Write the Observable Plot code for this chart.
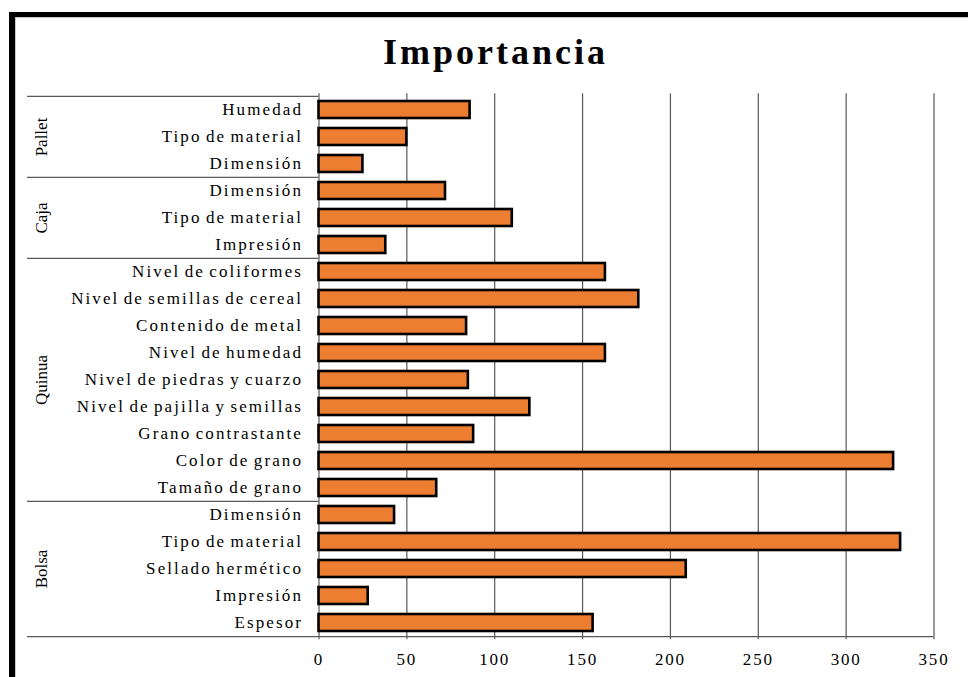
<!DOCTYPE html>
<html>
<head>
<meta charset="utf-8">
<script src="https://cdn.jsdelivr.net/npm/d3@7"></script>
<script src="https://cdn.jsdelivr.net/npm/@observablehq/plot@0.6"></script>
<style>
  html, body { margin: 0; padding: 0; overflow: hidden; background: #fff; }
  #chart {
    position: relative; width: 968px; height: 677px; overflow: hidden;
    font-family: "Liberation Serif", "Times New Roman", serif; color: #000;
  }
  #frame {
    position: absolute; left: 9px; top: 12px; width: 1100px; height: 900px;
    border-left: 6px solid #000; border-top: 5px solid #000;
    box-shadow: inset 1px 1px 0 #c8c8c8; pointer-events: none;
  }
  #title {
    width: 991px; height: 75px; box-sizing: border-box; padding-top: 32px;
    line-height: 40px; font-size: 36px; font-weight: bold; letter-spacing: 3px;
    text-align: center; white-space: nowrap;
  }
  #chart svg { display: block; }
  #chart g[aria-label="y-axis tick label"] text { letter-spacing: 2.1px; word-spacing: -2px; }
  #chart g[aria-label="x-axis tick label"] text { letter-spacing: 1.8px; }
</style>
</head>
<body>
<div id="chart">
  <div id="frame"></div>
  <div id="title">Importancia</div>
</div>
<script>
// Evaluated attributes, top to bottom, with the packaging level each belongs to
const categories = [
  "Humedad", "Tipo de material", "Dimensión",
  "Dimensión", "Tipo de material", "Impresión",
  "Nivel de coliformes", "Nivel de semillas de cereal", "Contenido de metal",
  "Nivel de humedad", "Nivel de piedras y cuarzo", "Nivel de pajilla y semillas",
  "Grano contrastante", "Color de grano", "Tamaño de grano",
  "Dimensión", "Tipo de material", "Sellado hermético", "Impresión", "Espesor"
];
const groups = [
  "Pallet", "Pallet", "Pallet",
  "Caja", "Caja", "Caja",
  "Quinua", "Quinua", "Quinua", "Quinua", "Quinua", "Quinua", "Quinua", "Quinua", "Quinua",
  "Bolsa", "Bolsa", "Bolsa", "Bolsa", "Bolsa"
];
const values = [
  86, 50, 25,
  72, 110, 38,
  163, 182, 84, 163, 85, 120, 88, 327, 67,
  43, 331, 209, 28, 156
];
const xTicks = [0, 50, 100, 150, 200, 250, 300, 350];

const width = 968, height = 602;
const marginTop = 18.3, marginBottom = 37.7, marginLeft = 318.5, marginRight = 34.5;
const labelColumnLeft = 27;
const step = (height - marginTop - marginBottom) / categories.length;

const rows = categories.map((label, i) => ({
  key: `${groups[i]} · ${label}`, label, group: groups[i], value: values[i]
}));
const labelOf = new Map(rows.map(d => [d.key, d.label]));
const groupNames = [...new Set(groups)];
const groupFirst = groupNames.map(g => rows.find(d => d.group === g));
const groupMiddle = groupNames.map(g => {
  const members = rows.filter(d => d.group === g);
  return members[Math.floor(members.length / 2)];
});
const lastRow = rows[rows.length - 1];

// Lines of the label column reach left from the plot frame
const labelColumn = {
  insetLeft: -(marginLeft - labelColumnLeft),
  insetRight: width - marginLeft - marginRight
};
const lineStyle = { stroke: "#595959", strokeWidth: 1.2 };

const chart = Plot.plot({
  width, height, marginTop, marginBottom, marginLeft, marginRight,
  style: { fontFamily: '"Liberation Serif", "Times New Roman", serif', fontSize: "17px", color: "#000", background: "transparent" },
  x: { domain: [0, 350] },
  y: { domain: rows.map(d => d.key), paddingInner: 0.38, paddingOuter: 0.19 },
  marks: [
    Plot.ruleX(xTicks, { ...lineStyle }),
    Plot.barX(rows, { x: "value", y: "key", fill: "#ED7D31", stroke: "#000", strokeWidth: 2.6 }),
    Plot.ruleY(groupFirst, { y: "key", dy: -step / 2, ...lineStyle, ...labelColumn }),
    Plot.ruleY([lastRow], { y: "key", dy: step / 2, ...lineStyle, insetLeft: labelColumn.insetLeft }),
    Plot.axisX({ ticks: xTicks, tickSize: 0, tickPadding: 13, label: null, fontSize: 17, fill: "#000" }),
    Plot.axisY({ tickSize: 0, tickPadding: 16, label: null, tickFormat: k => labelOf.get(k), fontSize: 17, fill: "#000" }),
    Plot.text(groupMiddle, {
      y: "key", text: "group", frameAnchor: "left", dx: 41.5 - marginLeft,
      rotate: -90, textAnchor: "middle", lineAnchor: "middle", fontSize: 17, fill: "#000"
    })
  ]
});

document.getElementById("chart").appendChild(chart);
</script>
</body>
</html>
